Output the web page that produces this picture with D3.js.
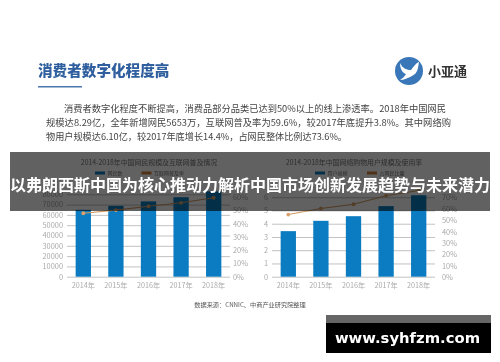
<!DOCTYPE html>
<html>
<head>
<meta charset="utf-8">
<script src="https://cdn.jsdelivr.net/npm/d3@7"></script>
<style>
	html,body{margin:0;padding:0;background:#fff;}
	svg{display:block;}
	text{font-family:"Noto Sans CJK SC","Noto Sans",sans-serif;}
</style>
</head>
<body>
<div id="chart"></div>
<script>
const years = ["2014年","2015年","2016年","2017年","2018年"];
// left chart
const netizens = [64900,68800,73100,77200,82900];
const penetration = [47.9,50.3,53.2,55.8,59.6];
const netizenTicks = [0,10000,20000,30000,40000,50000,60000,70000,80000];
const penetrationTicks = [0,10,20,30,40,50,60];
// right chart
const shoppers = [3.44,4.22,4.57,5.33,6.15];
const shopShare = [55,60.3,64,71.5,76];
const shopperTicks = [0,1,2,3,4,5,6];
const shopShareTicks = [0,10,20,30,40,50,60,70];

const paragraph = [
	"消费者数字化程度不断提高，消费品部分品类已达到50%以上的线上渗透率。2018年中国网民",
	"规模达8.29亿，全年新增网民5653万，互联网普及率为59.6%，较2017年底提升3.8%。其中网络购",
	"物用户规模达6.10亿，较2017年底增长14.4%，占网民整体比例达73.6%。"
];
const banner = "以弗朗西斯中国为核心推动力解析中国市场创新发展趋势与未来潜力";

const svg = d3.select("#chart").append("svg")
	.attr("width",500)
	.attr("height",362);

svg.append("rect").attr("width",500).attr("height",362).attr("fill","#fff");

// the reference is a soft, upscaled photo, so the page content gets a slight blur
const page = svg.append("g").style("filter","blur(0.4px)");

// heading
page.append("text").attr("x",38).attr("y",76)
	.attr("font-size",14.6).attr("font-weight",900).attr("fill","#2f5f9e")
	.text("消费者数字化程度高");
page.append("rect").attr("x",38).attr("y",86).attr("width",44).attr("height",1.5).attr("fill","#4a76ab");

// logo
page.append("circle").attr("cx",409).attr("cy",71).attr("r",14).attr("fill","#3a77b8");
page.append("path")
	.attr("d","M400,63 C403,69 407,70 411,70 C414,66 416,63 419,62 C418,68 418,73 412,76 C408,78 404,80 400,80 C403,78 405,76 406,74 C402,73 400,68 400,63Z")
	.attr("fill","#fff");
page.append("text").attr("x",428).attr("y",76)
	.attr("font-size",13).attr("font-weight",700).attr("fill","#333")
	.text("小亚通");

// intro text
const lineBox = [[64,112,382],[46,126.5,405],[46,140.5,301]];
paragraph.forEach((t,i)=>{
	page.append("text")
		.attr("x",lineBox[i][0]).attr("y",lineBox[i][1]-0.5)
		.attr("textLength",lineBox[i][2]).attr("lengthAdjust","spacingAndGlyphs")
		.attr("font-size",9.2).attr("fill","#444")
		.text(t);
});

function drawChart(opt){
	let g = page.append("g");
	let x_scale = d3.scaleBand().domain(years).range(opt.xRange);
	let y_scale = d3.scaleLinear().domain([0,opt.leftMax]).range([276.7,184]);
	let p_scale = d3.scaleLinear().domain([0,opt.rightMax]).range([opt.rightZero,opt.rightTop]);

	// gridlines come from the left axis ticks
	let y_axis = d3.axisLeft(y_scale)
		.tickValues(opt.leftTicks)
		.tickFormat(d=>d)
		.tickSize(-(opt.xRange[1]-opt.xRange[0]))
		.tickPadding(4);
	let ya = g.append("g")
		.attr("transform","translate("+opt.xRange[0]+",0)")
		.call(y_axis);
	ya.select(".domain").remove();
	ya.selectAll("line").attr("stroke","#bbb").attr("stroke-width",0.9);
	ya.selectAll("text").attr("fill","#aaa").attr("font-size",7.4);

	let p_axis = d3.axisRight(p_scale)
		.tickValues(opt.rightTicks)
		.tickFormat(d=>d+"%")
		.tickSize(0)
		.tickPadding(opt.rightPad);
	let pa = g.append("g")
		.attr("transform","translate("+opt.xRange[1]+",0)")
		.call(p_axis);
	pa.select(".domain").remove();
	pa.selectAll("text").attr("fill","#aaa").attr("font-size",7.4);

	let x_axis = d3.axisBottom(x_scale).tickSize(0).tickPadding(6.5);
	let xa = g.append("g")
		.attr("transform","translate(0,276.7)")
		.call(x_axis);
	xa.select(".domain").remove();
	xa.selectAll("text").attr("fill","#aaa").attr("font-size",7.2);

	let barW = 15.3;
	g.selectAll(".bar").data(opt.bars).enter().append("rect")
		.attr("class","bar")
		.attr("x",(d,i)=>x_scale(years[i])+x_scale.bandwidth()/2-barW/2)
		.attr("y",d=>y_scale(d))
		.attr("width",barW)
		.attr("height",d=>276.7-y_scale(d))
		.attr("fill","#0b7cc1");

	let line = d3.line()
		.x((d,i)=>x_scale(years[i])+x_scale.bandwidth()/2)
		.y(d=>p_scale(d));
	g.append("path").datum(opt.line)
		.attr("d",line)
		.attr("fill","none")
		.attr("stroke","#d09a62")
		.attr("stroke-width",1.1);
	g.selectAll(".dot").data(opt.line).enter().append("circle")
		.attr("class","dot")
		.attr("cx",(d,i)=>x_scale(years[i])+x_scale.bandwidth()/2)
		.attr("cy",d=>p_scale(d))
		.attr("r",1.9)
		.attr("fill","#d8a06a");

	// title and legend, sitting under the banner
	g.append("text").attr("x",opt.titleX).attr("y",164.5)
		.attr("text-anchor","middle").attr("font-size",6.9).attr("fill","#777")
		.text(opt.title);
	opt.legend.forEach((l,i)=>{
		g.append("rect").attr("x",l[0]).attr("y",171.5).attr("width",10).attr("height",3)
			.attr("fill",i==0?"#0b7cc1":"#d0843c");
		g.append("text").attr("x",l[0]+12.5).attr("y",175.2)
			.attr("font-size",5).attr("fill","#777").text(l[1]);
	});
}

drawChart({
	xRange:[67,230], bars:netizens, line:penetration,
	leftMax:90000, leftTicks:netizenTicks,
	rightMax:70, rightTicks:penetrationTicks, rightZero:276.7, rightTop:184, rightPad:3,
	title:"2014-2018年中国网民规模及互联网普及情况", titleX:149,
	legend:[[95,"网民数"],[141.5,"互联网普及率"]]
});
drawChart({
	xRange:[272,435], bars:shoppers, line:shopShare,
	leftMax:7, leftTicks:shopperTicks,
	rightMax:80, rightTicks:shopShareTicks, rightZero:277.3, rightTop:186, rightPad:7,
	title:"2014-2018年中国网络购物用户规模及使用率", titleX:354,
	legend:[[315,"用户规模"],[367,"占网民比重"]]
});

page.append("text").attr("x",250).attr("y",306.5)
	.attr("text-anchor","middle").attr("font-size",6.2).attr("fill","#555")
	.text("数据来源：CNNIC、中商产业研究院整理");

// banner across the middle
svg.append("rect").attr("x",10).attr("y",152).attr("width",480).attr("height",59)
	.attr("fill","#000").attr("opacity",0.62);
svg.append("text").attr("x",250).attr("y",191)
	.attr("text-anchor","middle").attr("font-size",16).attr("font-weight",700).attr("fill","#fff")
	.text(banner);

// site stamp
svg.append("rect").attr("x",326).attr("y",315).attr("width",165).attr("height",38).attr("fill","#000");
svg.append("rect").attr("x",326).attr("y",315).attr("width",165).attr("height",8).attr("fill","#666");
svg.append("text").attr("x",407.5).attr("y",342.5)
	.attr("text-anchor","middle")
	.style("font-family","'DejaVu Sans',sans-serif")
	.attr("font-size",14.8).attr("font-weight",700).attr("fill","#fff")
	.text("www.syhfzm.com");
</script>
</body>
</html>
